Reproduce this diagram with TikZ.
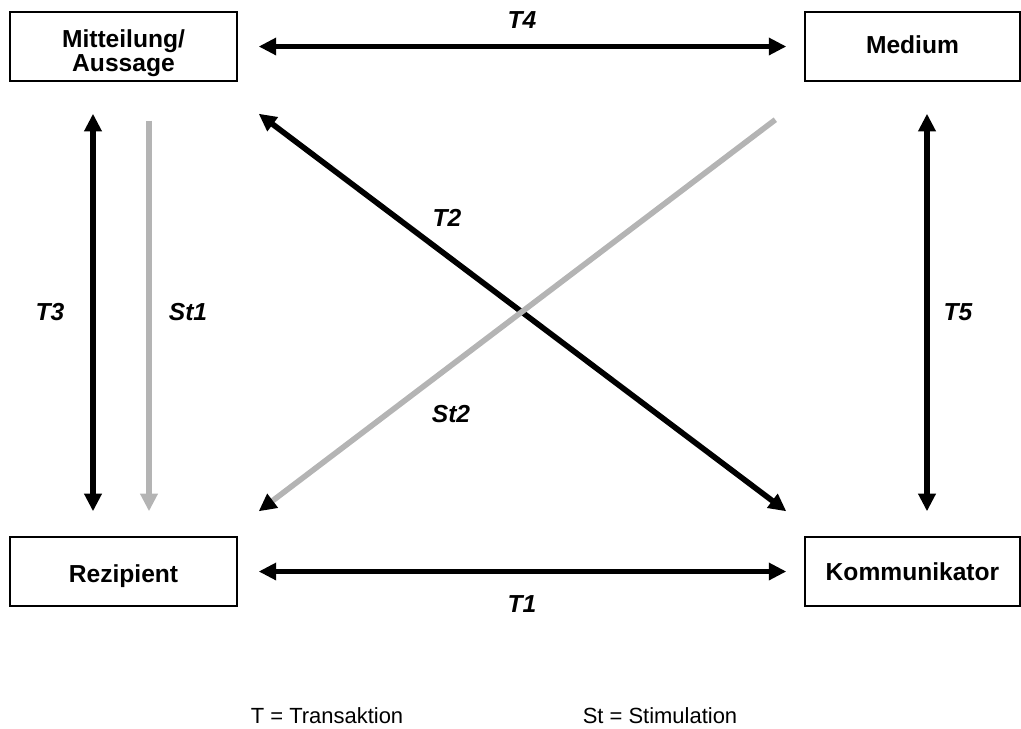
\documentclass[tikz,border=0pt]{standalone}
\usepackage{fontspec}
\setmainfont{Liberation Sans}
\usetikzlibrary{arrows.meta,calc}
\definecolor{stgray}{RGB}{180,180,180}
\newcommand{\boxtext}[2][-2pt]{\raisebox{#1}[\height][\depth]{\begin{tabular}{@{}c@{}}#2\end{tabular}}}

\tikzset{
  box/.style={draw,line width=0.8pt,minimum width=4.54cm,minimum height=1.38cm,
    font=\fontsize{14}{13.6}\selectfont\bfseries},
  trans/.style={line width=3.2pt,black,{Triangle[length=10pt,width=9.5pt]}-{Triangle[length=10pt,width=9.5pt]}},
  stim/.style={line width=3.2pt,stgray,-{Triangle[length=10pt,width=9.5pt]}},
  lab/.style={font=\fontsize{14}{16}\selectfont\bfseries\itshape}
}

\begin{document}
\begin{tikzpicture}[x=0.02cm,y=-0.02cm]
		\useasboundingbox (0,0) rectangle (1021,728);
		\path (123.5,46.5) node(mit)[box]{\boxtext[-4.4pt]{Mitteilung/\\Aussage}}
		(912.5,46.5) node(med)[box,minimum width=4.3cm]{\boxtext[-1pt]{Medium}}
		(123.5,571.5) node(rez)[box]{\boxtext[-3pt]{Rezipient}}
		(912.5,571.5) node(kom)[box,minimum width=4.3cm]{\boxtext{Kommunikator}};
		% Transaktionen
		\draw [trans,shorten <=0.42cm,shorten >=0.36cm] (mit) to (med);
		\draw [trans,shorten <=0.42cm,shorten >=0.36cm] (rez) to (kom);
		\draw [trans] ($(mit.south)+(-30.5,32)$) to ($(rez.north)+(-30.5,-25)$);
		\draw [trans] ($(med.south)+(14.5,32)$) to ($(kom.north)+(14.5,-25)$);
		\draw [trans] ($(mit.south east)+(21,32)$) to ($(kom.north west)+(-18,-25)$);
		% Stimulationen
		\draw [stim] ($(mit.south)+(25.5,39)$) to ($(rez.north)+(25.5,-25)$);
		\draw [stim,-{Triangle[length=10pt,width=9.5pt,black]}] ($(med.south west)+(-29,38)$) to ($(rez.north east)+(21,-25)$);
		% Beschriftungen
		\node(t4)[lab] at (522,20) {T4};
		\node(t2)[lab] at (447,218) {T2};
		\node(t3)[lab] at (50,312) {T3};
		\node(st1)[lab] at (188,312) {St1};
		\node(t5)[lab] at (958,312) {T5};
		\node(st2)[lab] at (451,414) {St2};
		\node(t1)[lab] at (522,604) {T1};
		% Legende
		\node(legt)[font=\fontsize{12.5}{14}\selectfont] at (327,716) {T = Transaktion};
		\node(legst)[font=\fontsize{12.5}{14}\selectfont] at (660,716) {St = Stimulation};
	\end{tikzpicture}
\end{document}
